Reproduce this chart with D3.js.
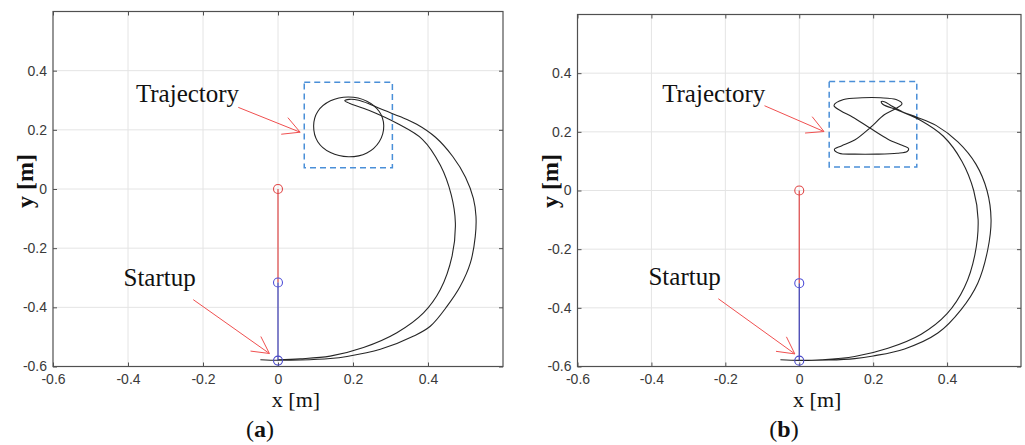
<!DOCTYPE html>
<html>
<head>
<meta charset="utf-8">
<script src="https://cdn.jsdelivr.net/npm/d3@7"></script>
<style>
	body { margin: 0; background: #fff; }
	svg { display: block; }
	.serif { font-family: 'Liberation Serif', 'Times New Roman', serif; fill: #111; }
</style>
</head>
<body>
<script>
/* Axis values. */
const xTicks = [-0.6, -0.4, -0.2, 0, 0.2, 0.4];
const yTicks = [-0.6, -0.4, -0.2, 0, 0.2, 0.4];
const gridValues = [-0.4, -0.2, 0, 0.2, 0.4];
const axisDomain = [-0.6, 0.6];

/* Pendulum joints (x, y) in metres: base, elbow, tip. */
const joints = [[0, 0], [0, -0.316], [0, -0.58]];

/* (a) swing-up path of the tip. */
const swingA = [
	[-0.047, -0.577], [0, -0.579], [0.059, -0.578], [0.139, -0.573], [0.184, -0.566],
	[0.273, -0.542], [0.362, -0.497], [0.406, -0.464], [0.451, -0.396], [0.486, -0.329],
	[0.513, -0.25], [0.526, -0.161], [0.528, -0.093], [0.521, -0.032], [0.5, 0.04],
	[0.466, 0.11], [0.42, 0.175], [0.37, 0.219], [0.325, 0.245], [0.285, 0.265],
	[0.248, 0.285], [0.215, 0.3], [0.19, 0.303], [0.178, 0.298], [0.19, 0.29],
	[0.242, 0.266], [0.317, 0.222], [0.385, 0.168], [0.433, 0.08], [0.462, -0.02],
	[0.473, -0.115], [0.464, -0.228], [0.433, -0.34], [0.388, -0.419], [0.317, -0.486],
	[0.228, -0.536], [0.139, -0.565], [0.059, -0.574], [0, -0.577]
];

/* (a) circular reference trajectory. */
const loopA = [
	[0.282, 0.214], [0.27, 0.262], [0.237, 0.297], [0.188, 0.311], [0.14, 0.298],
	[0.106, 0.262], [0.095, 0.213], [0.106, 0.16], [0.14, 0.123], [0.188, 0.109],
	[0.237, 0.122], [0.27, 0.16]
];

/* (b) swing-up path of the tip. */
const swingB = [
	[-0.051, -0.577], [0, -0.579], [0.08, -0.578], [0.15, -0.573], [0.2, -0.564],
	[0.285, -0.54], [0.375, -0.486], [0.438, -0.406], [0.483, -0.316], [0.51, -0.202],
	[0.519, -0.1], [0.508, 0.0], [0.478, 0.09], [0.43, 0.165], [0.37, 0.222],
	[0.318, 0.25], [0.28, 0.268], [0.25, 0.288], [0.232, 0.302], [0.222, 0.303],
	[0.226, 0.294], [0.27, 0.272], [0.33, 0.238], [0.39, 0.185], [0.44, 0.1],
	[0.472, 0.0], [0.484, -0.1], [0.475, -0.22], [0.447, -0.33], [0.4, -0.42],
	[0.33, -0.49], [0.24, -0.538], [0.15, -0.566], [0.06, -0.577], [0, -0.579]
];

/* (b) figure-eight reference trajectory. */
const loopB = [
	[0.094, 0.29], [0.12, 0.31], [0.17, 0.316], [0.22, 0.316], [0.262, 0.31],
	[0.278, 0.296], [0.262, 0.28], [0.23, 0.258], [0.191, 0.213], [0.15, 0.172],
	[0.114, 0.152], [0.095, 0.14], [0.108, 0.127], [0.15, 0.124], [0.21, 0.124],
	[0.265, 0.127], [0.292, 0.133], [0.296, 0.143], [0.28, 0.153], [0.24, 0.175],
	[0.191, 0.213], [0.145, 0.25], [0.112, 0.272]
];

/* Dashed frames round the reference trajectories: [x0, x1, y0, y1]. */
const boxA = [0.07, 0.305, 0.072, 0.361];
const boxB = [0.081, 0.318, 0.08, 0.372];

/* Annotations: label, label anchor, arrow tail, arrow tip (metres). */
const notesA = [
	{ text: 'Trajectory', at: [-0.379, 0.294], from: [-0.106, 0.276], to: [0.059, 0.192] },
	{ text: 'Startup', at: [-0.412, -0.327], from: [-0.226, -0.374], to: [-0.023, -0.556] }
];
const notesB = [
	{ text: 'Trajectory', at: [-0.371, 0.303], from: [-0.094, 0.289], to: [0.067, 0.201] },
	{ text: 'Startup', at: [-0.408, -0.321], from: [-0.219, -0.369], to: [-0.012, -0.557] }
];

/* Styles. */
const axisColor = '#505050';
const gridColor = '#e4e4e4';
const pathColor = '#262626';
const frameColor = '#4a8fd8';
const arrowColor = '#f05050';
const upperLinkColor = '#e04848';
const lowerLinkColor = '#3838b0';

const panels = [
	{ tag: 'a', left: 53, right: 503, top: 11.5, bottom: 366.5, captionX: 260,
		swing: swingA, loop: loopA, box: boxA, notes: notesA },
	{ tag: 'b', left: 577.5, right: 1021, top: 14.5, bottom: 366.5, captionX: 784,
		swing: swingB, loop: loopB, box: boxB, notes: notesB }
];

/**
 * Formats a tick value the MATLAB way.
 */
function formatTick(d) {
	return d === 0 ? '0' : String(d);
}

/**
 * Draws one subplot.
 */
function drawPanel(svg, panel) {
	let x = d3.scaleLinear().domain(axisDomain).range([panel.left, panel.right]);
	let y = d3.scaleLinear().domain(axisDomain).range([panel.bottom, panel.top]);
	let g = svg.append('g');

	/* Grid. */
	g.selectAll('.grid-x')
			.data(gridValues)
		.enter().append('line')
			.attr('x1', d => x(d)).attr('x2', d => x(d))
			.attr('y1', y(axisDomain[0])).attr('y2', y(axisDomain[1]))
			.attr('stroke', gridColor);
	g.selectAll('.grid-y')
			.data(gridValues)
		.enter().append('line')
			.attr('y1', d => y(d)).attr('y2', d => y(d))
			.attr('x1', x(axisDomain[0])).attr('x2', x(axisDomain[1]))
			.attr('stroke', gridColor);

	/* Axes with inward ticks on all four sides. */
	let axes = [
		{ axis: d3.axisBottom(x).tickValues(xTicks).tickFormat(formatTick).tickPadding(8), at: 'translate(0,' + panel.bottom + ')' },
		{ axis: d3.axisLeft(y).tickValues(yTicks).tickFormat(formatTick).tickPadding(6), at: 'translate(' + panel.left + ',0)' },
		{ axis: d3.axisTop(x).tickValues(xTicks).tickFormat(''), at: 'translate(0,' + panel.top + ')' },
		{ axis: d3.axisRight(y).tickValues(yTicks).tickFormat(''), at: 'translate(' + panel.right + ',0)' }
	];
	for (let a of axes) {
		let ag = g.append('g')
			.attr('transform', a.at)
			.call(a.axis.tickSizeInner(-4).tickSizeOuter(0));
		ag.select('.domain').remove();
		ag.attr('font-family', "'Liberation Sans', Arial, sans-serif").attr('font-size', 14);
		ag.selectAll('line').attr('stroke', axisColor);
		ag.selectAll('text').attr('fill', '#3a3a3a');
	}

	/* Plot box. */
	g.append('rect')
		.attr('x', panel.left).attr('y', panel.top)
		.attr('width', panel.right - panel.left).attr('height', panel.bottom - panel.top)
		.attr('fill', 'none').attr('stroke', axisColor).attr('stroke-width', 1.2);

	/* Dashed frame. */
	let b = panel.box;
	g.append('rect')
		.attr('x', x(b[0])).attr('y', y(b[3]))
		.attr('width', x(b[1]) - x(b[0])).attr('height', y(b[2]) - y(b[3]))
		.attr('fill', 'none').attr('stroke', frameColor)
		.attr('stroke-width', 1.5).attr('stroke-dasharray', '6,4');

	/* Tip paths. */
	let open = d3.line().x(d => x(d[0])).y(d => y(d[1])).curve(d3.curveCatmullRom.alpha(0.5));
	let closed = d3.line().x(d => x(d[0])).y(d => y(d[1])).curve(d3.curveCatmullRomClosed.alpha(0.5));
	g.append('path').attr('d', open(panel.swing))
		.attr('fill', 'none').attr('stroke', pathColor).attr('stroke-width', 1.1);
	g.append('path').attr('d', closed(panel.loop))
		.attr('fill', 'none').attr('stroke', pathColor).attr('stroke-width', 1.1);

	/* Pendulum links and joints. */
	let linkColors = [upperLinkColor, lowerLinkColor];
	g.selectAll('.link')
			.data(d3.pairs(joints))
		.enter().append('line')
			.attr('x1', d => x(d[0][0])).attr('y1', d => y(d[0][1]))
			.attr('x2', d => x(d[1][0])).attr('y2', d => y(d[1][1]))
			.attr('stroke', (_, i) => linkColors[i]).attr('stroke-width', 1.2);
	let jointColors = ['#e04848', '#5050d8', '#4848c8'];
	g.selectAll('.joint')
			.data(joints)
		.enter().append('circle')
			.attr('cx', d => x(d[0])).attr('cy', d => y(d[1]))
			.attr('r', 4.5)
			.attr('fill', 'none').attr('stroke', (_, i) => jointColors[i]).attr('stroke-width', 1.1);

	/* Annotations with open arrow heads. */
	for (let note of panel.notes) {
		let x0 = x(note.from[0]), y0 = y(note.from[1]);
		let x1 = x(note.to[0]), y1 = y(note.to[1]);
		let angle = Math.atan2(y0 - y1, x0 - x1);
		let head = 19, spread = 28 / 180 * Math.PI;
		let lines = [
			[x0, y0],
			[x1 + head * Math.cos(angle - spread), y1 + head * Math.sin(angle - spread)],
			[x1 + head * Math.cos(angle + spread), y1 + head * Math.sin(angle + spread)]
		];
		for (let p of lines) {
			g.append('line')
				.attr('x1', p[0]).attr('y1', p[1]).attr('x2', x1).attr('y2', y1)
				.attr('stroke', arrowColor).attr('stroke-width', 1);
		}
		g.append('text')
			.attr('class', 'serif')
			.attr('x', x(note.at[0])).attr('y', y(note.at[1]))
			.attr('font-size', 25)
			.text(note.text);
	}

	/* Axis labels. */
	g.append('text')
		.attr('class', 'serif')
		.attr('x', (panel.left + panel.right) / 2 + 18).attr('y', 407)
		.attr('text-anchor', 'middle').attr('font-size', 22)
		.text('x [m]');
	g.append('text')
		.attr('class', 'serif')
		.attr('transform', 'translate(' + (panel.left - 20) + ',181) rotate(-90)')
		.attr('text-anchor', 'middle').attr('font-size', 24).attr('font-weight', 'bold')
		.text('y [m]');

	/* Caption. */
	let caption = g.append('text')
		.attr('class', 'serif')
		.attr('x', panel.captionX).attr('y', 437)
		.attr('text-anchor', 'middle').attr('font-size', 24);
	caption.append('tspan').text('(');
	caption.append('tspan').attr('font-weight', 'bold').text(panel.tag);
	caption.append('tspan').text(')');
}

/**
 * Runs the program.
 */
function main() {
	let svg = d3.select('body').append('svg')
		.attr('width', 1025)
		.attr('height', 445);
	for (let panel of panels) {
		drawPanel(svg, panel);
	}
}

window.onload = function() {
	main();
};
</script>
</body>
</html>
